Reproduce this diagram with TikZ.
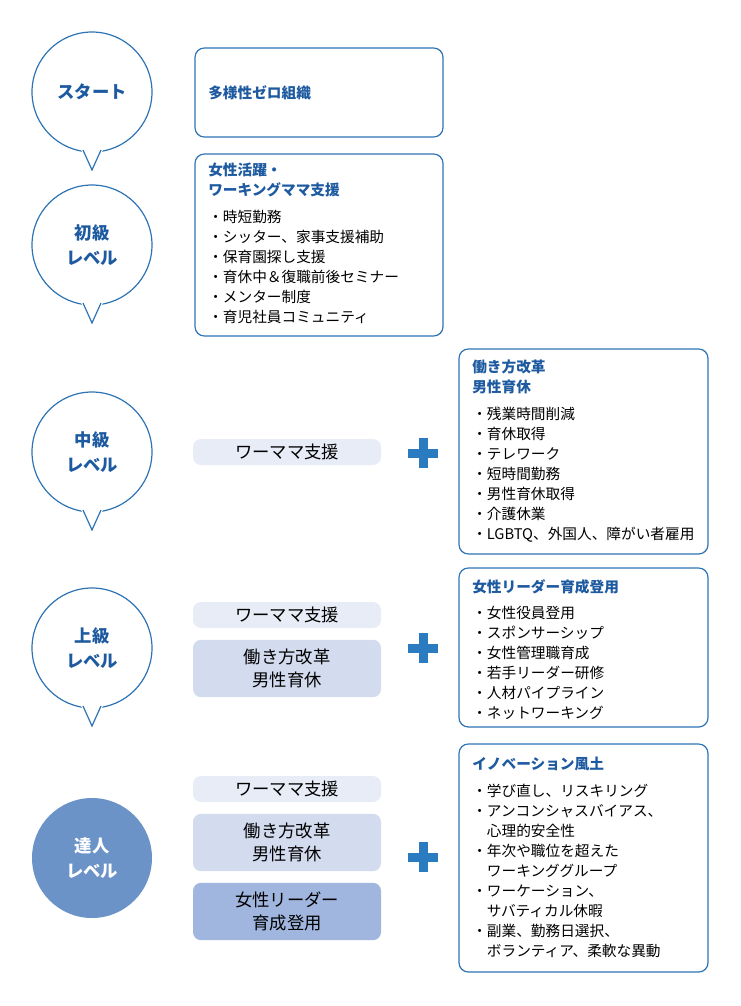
\documentclass[tikz,border=0pt]{standalone}
\usepackage{fontspec}
\setmainfont{Noto Sans CJK JP}
\usetikzlibrary{positioning}
\definecolor{lineblue}{RGB}{46,116,181}
\definecolor{textblue}{RGB}{30,90,160}
\definecolor{plusblue}{RGB}{42,123,192}
\definecolor{fillmaster}{RGB}{107,147,200}
\definecolor{pillA}{RGB}{232,236,246}
\definecolor{pillB}{RGB}{211,220,239}
\definecolor{pillC}{RGB}{160,182,222}
\newcommand{\hang}{\hspace*{1em}}
\newcommand{\ttl}[1]{\textbf{\textcolor{textblue}{#1}}}

\begin{document}
\begin{tikzpicture}[x=0.75pt,y=-0.75pt,
    level/.style={circle, draw=lineblue, line width=0.9pt, fill=white,
        minimum size=90pt, align=center, text=textblue,
        font=\bfseries\fontsize{13}{17}\selectfont},
    infobox/.style={draw=lineblue, line width=0.9pt, rounded corners=7pt,
        fill=white},
    content/.style={anchor=north west, align=left, inner sep=0pt,
        font=\fontsize{11}{15}\selectfont},
    pill/.style={rounded corners=6pt, minimum width=141pt, align=center,
        font=\fontsize{13}{17}\selectfont, inner sep=0pt},
    plus/.style={fill=plusblue}
]
\useasboundingbox (0,0) rectangle (740,1006);

% level circles with tails
\foreach \cy/\name in {92/start,245/beginner,452/middle,648/upper}{
    \node[level] (\name) at (92,\cy) {};
    \fill[white] (80,\cy+56) -- (92,\cy+78) -- (104,\cy+56) -- cycle;
    \draw[lineblue, line width=0.9pt] (83,\cy+58) -- (92,\cy+78) -- (101,\cy+58);
}
\node[text=textblue, font=\bfseries\fontsize{13}{17}\selectfont] at (start) {スタート};
\node[text=textblue, align=center, font=\bfseries\fontsize{13}{19}\selectfont] at (beginner) {初級\\レベル};
\node[text=textblue, align=center, font=\bfseries\fontsize{13}{19}\selectfont] at (middle) {中級\\レベル};
\node[text=textblue, align=center, font=\bfseries\fontsize{13}{19}\selectfont] at (upper) {上級\\レベル};
\node[level, draw=none, fill=fillmaster, text=white,
      font=\bfseries\fontsize{13}{19}\selectfont] (master) at (92,858) {達人\\レベル};

% boxes
\draw[infobox] (195,48) rectangle (443,137);
\node[content, anchor=west] (zero) at (208,93) {\ttl{多様性ゼロ組織}};

\draw[infobox] (195,154) rectangle (443,336);
\node[content] (support) at (208,163) {\ttl{女性活躍・}\\\ttl{ワーキングママ支援}\\[5pt]
・時短勤務\\・シッター、家事支援補助\\・保育園探し支援\\・育休中＆復職前後セミナー\\・メンター制度\\・育児社員コミュニティ};

\draw[infobox] (459,349) rectangle (708,554);
\node[content] (reform) at (472,360) {\ttl{働き方改革}\\\ttl{男性育休}\\[5pt]
・残業時間削減\\・育休取得\\・テレワーク\\・短時間勤務\\・男性育休取得\\・介護休業\\・LGBTQ、外国人、障がい者雇用};

\draw[infobox] (459,568) rectangle (708,727);
\node[content] (leader) at (472,579) {\ttl{女性リーダー育成登用}\\[5pt]
・女性役員登用\\・スポンサーシップ\\・女性管理職育成\\・若手リーダー研修\\・人材パイプライン\\・ネットワーキング};

\draw[infobox] (459,744) rectangle (708,972);
\node[content] (innovation) at (472,757) {\ttl{イノベーション風土}\\[5pt]
・学び直し、リスキリング\\・アンコンシャスバイアス、\\\hang 心理的安全性\\・年次や職位を超えた\\\hang ワーキンググループ\\・ワーケーション、\\\hang サバティカル休暇\\・副業、勤務日選択、\\\hang ボランティア、柔軟な異動};

% pills
\node[pill, fill=pillA, minimum height=19.5pt] (mid1) at (287,452) {ワーママ支援};
\node[pill, fill=pillA, minimum height=19.5pt] (up1) at (287,615) {ワーママ支援};
\node[pill, fill=pillB, minimum height=43pt] (up2) at (287,668.5) {働き方改革\\男性育休};
\node[pill, fill=pillA, minimum height=19.5pt] (ms1) at (287,789) {ワーママ支援};
\node[pill, fill=pillB, minimum height=43pt] (ms2) at (287,842.5) {働き方改革\\男性育休};
\node[pill, fill=pillC, minimum height=43pt] (ms3) at (287,911.5) {女性リーダー\\育成登用};

% plus signs
\foreach \py in {453,648,857}{
    \fill[plus] (408,\py-4.5) rectangle (438,\py+4.5);
    \fill[plus] (418.5,\py-15) rectangle (427.5,\py+15);
}
\end{tikzpicture}
\end{document}
